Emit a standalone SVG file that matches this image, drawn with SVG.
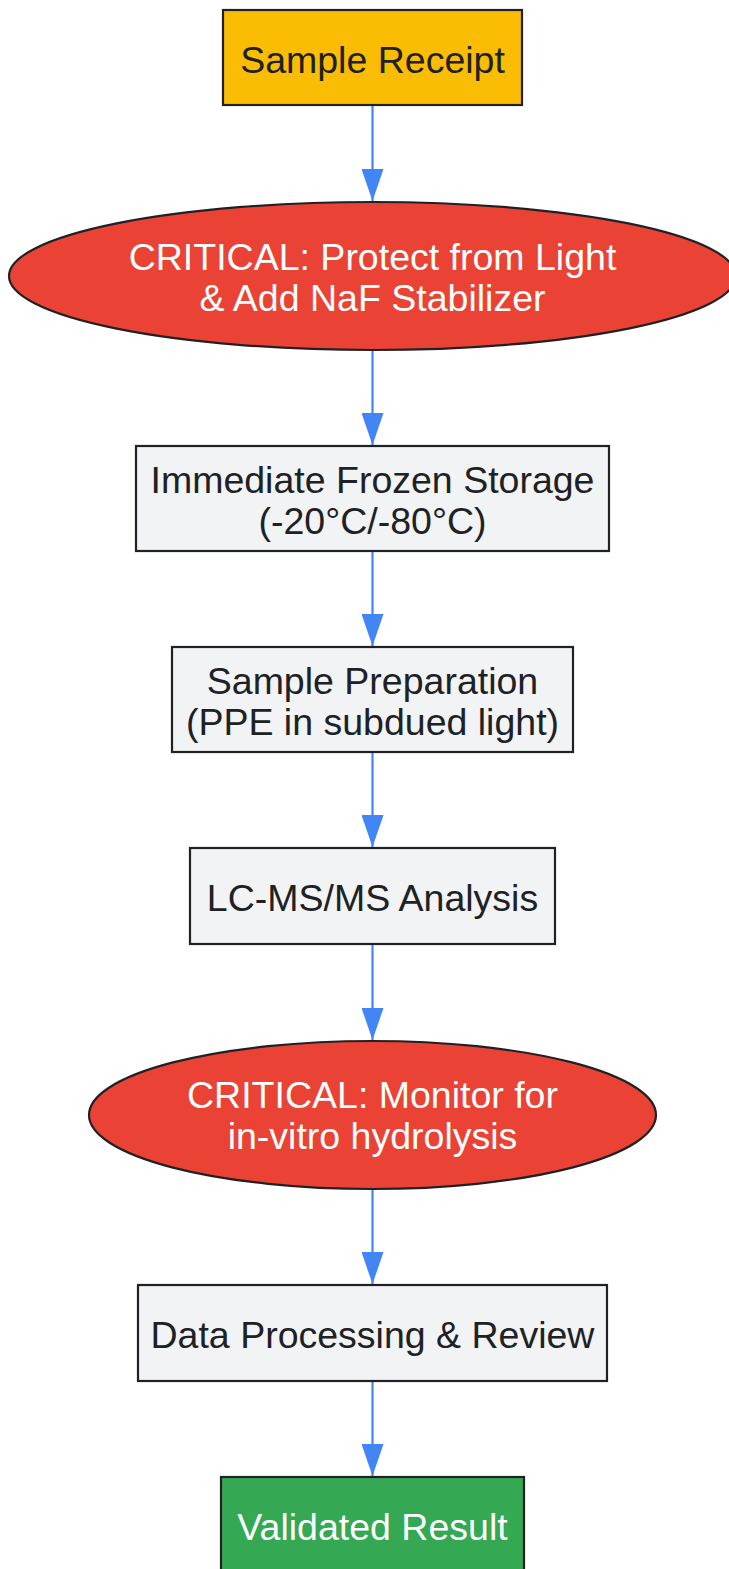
<svg xmlns="http://www.w3.org/2000/svg" width="729" height="1569" viewBox="0 0 729 1569">
<style>
  .n { stroke: #202124; stroke-width: 2.2; }
  .t { font-family: "Liberation Sans", Arial, sans-serif; font-size: 37.5px; text-anchor: middle; }
  .dk { fill: #202124; }
  .wh { fill: #ffffff; }
  .e { stroke: #4285F4; stroke-width: 2.2; fill: none; }
</style>
<defs>
  <marker id="ah" viewBox="0 0 32 22" refX="32" refY="11" markerWidth="32" markerHeight="22" markerUnits="userSpaceOnUse" orient="auto">
    <path d="M0,0 L32,11 L0,22 Z" fill="#4285F4"/>
  </marker>
</defs>
<rect width="729" height="1569" fill="#ffffff"/>
<g id="connectors">
  <line class="e" x1="372.5" y1="106" x2="372.5" y2="201" marker-end="url(#ah)"/>
  <line class="e" x1="372.5" y1="350" x2="372.5" y2="445" marker-end="url(#ah)"/>
  <line class="e" x1="372.5" y1="552" x2="372.5" y2="646" marker-end="url(#ah)"/>
  <line class="e" x1="372.5" y1="753" x2="372.5" y2="847" marker-end="url(#ah)"/>
  <line class="e" x1="372.5" y1="945" x2="372.5" y2="1040" marker-end="url(#ah)"/>
  <line class="e" x1="372.5" y1="1189" x2="372.5" y2="1284" marker-end="url(#ah)"/>
  <line class="e" x1="372.5" y1="1382" x2="372.5" y2="1476" marker-end="url(#ah)"/>
</g>
<g id="n1">
  <rect class="n" x="223" y="10" width="299" height="95" fill="#FBBC04"/>
  <text class="t dk" x="372.5" y="73">Sample Receipt</text>
</g>
<g id="n2">
  <ellipse class="n" cx="372.5" cy="276" rx="363.5" ry="74" fill="#EA4335"/>
  <text class="t wh" x="372.5" y="270">CRITICAL: Protect from Light</text>
  <text class="t wh" x="372.5" y="311">&amp; Add NaF Stabilizer</text>
</g>
<g id="n3">
  <rect class="n" x="136" y="446" width="473" height="105" fill="#F1F3F4"/>
  <text class="t dk" x="372.5" y="493">Immediate Frozen Storage</text>
  <text class="t dk" x="372.5" y="534">(-20°C/-80°C)</text>
</g>
<g id="n4">
  <rect class="n" x="172" y="647" width="401" height="105" fill="#F1F3F4"/>
  <text class="t dk" x="372.5" y="694">Sample Preparation</text>
  <text class="t dk" x="372.5" y="735">(PPE in subdued light)</text>
</g>
<g id="n5">
  <rect class="n" x="190" y="848" width="365" height="96" fill="#F1F3F4"/>
  <text class="t dk" x="372.5" y="911">LC-MS/MS Analysis</text>
</g>
<g id="n6">
  <ellipse class="n" cx="372.5" cy="1115" rx="283.5" ry="74" fill="#EA4335"/>
  <text class="t wh" x="372.5" y="1108">CRITICAL: Monitor for</text>
  <text class="t wh" x="372.5" y="1149">in-vitro hydrolysis</text>
</g>
<g id="n7">
  <rect class="n" x="138" y="1285" width="469" height="96" fill="#F1F3F4"/>
  <text class="t dk" x="372.5" y="1348">Data Processing &amp; Review</text>
</g>
<g id="n8">
  <rect class="n" x="221" y="1477" width="303" height="100" fill="#34A853"/>
  <text class="t wh" x="372.5" y="1540">Validated Result</text>
</g>
</svg>
